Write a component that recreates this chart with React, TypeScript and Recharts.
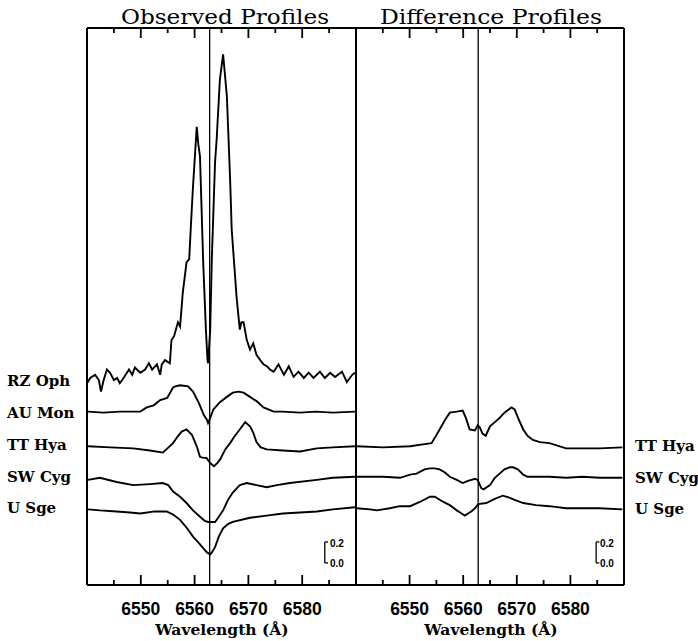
import React from 'react';
import { LineChart, Line, XAxis, YAxis, ReferenceLine } from 'recharts';

// ---------- axis / tick data ----------
const X_DOMAIN: [number, number] = [6540, 6590];
const Y_DOMAIN: [number, number] = [0, 5.3];
const H_ALPHA = 6562.8;
const xTicks = [6545, 6550, 6555, 6560, 6565, 6570, 6575, 6580, 6585];
const majorTicks = [6550, 6560, 6570, 6580];
const panelTitles = ['Observed Profiles', 'Difference Profiles'];
const axisTitle = 'Wavelength (Å)';
const observedNames = ['RZ Oph', 'AU Mon', 'TT Hya', 'SW Cyg', 'U Sge'];
const differenceNames = ['TT Hya', 'SW Cyg', 'U Sge'];
const scaleBarLabels = ['0.2', '0.0'];
const scaleBarValues = [0.21, 0.41];

// ---------- observed profiles (offset relative flux) ----------
const rzOphWave = [6540.0, 6540.6, 6541.5, 6542.2, 6542.6, 6543.1, 6543.7, 6544.3, 6545.0, 6545.6, 6546.1, 6546.8, 6547.8, 6548.4, 6548.9, 6549.9, 6550.8, 6551.5, 6552.1, 6553.0, 6553.6, 6553.9, 6554.5, 6555.4, 6555.7, 6556.2, 6556.9, 6557.3, 6557.8, 6558.5, 6559.0, 6559.3, 6559.7, 6560.4, 6560.7, 6561.0, 6561.6, 6562.1, 6562.4, 6562.5, 6562.9, 6563.2, 6563.8, 6564.1, 6564.7, 6565.3, 6566.0, 6566.6, 6566.9, 6567.8, 6568.4, 6568.7, 6569.1, 6569.7, 6570.3, 6570.9, 6571.5, 6572.2, 6572.8, 6573.5, 6574.0, 6574.7, 6575.6, 6576.6, 6577.5, 6578.4, 6579.3, 6580.3, 6581.2, 6582.1, 6583.3, 6584.2, 6585.2, 6586.1, 6587.4, 6588.3, 6589.3, 6589.8];
const rzOphFlux = [1.92, 1.97, 2.00, 1.95, 1.84, 1.95, 2.05, 2.02, 1.95, 1.97, 1.92, 1.97, 2.05, 2.00, 2.07, 2.02, 2.05, 2.11, 2.05, 2.10, 2.00, 2.10, 2.14, 2.11, 2.33, 2.37, 2.50, 2.46, 2.78, 3.07, 3.10, 3.41, 3.79, 4.36, 4.19, 4.08, 3.07, 2.43, 2.14, 2.11, 2.43, 3.10, 4.02, 4.24, 4.81, 5.05, 4.65, 3.86, 3.38, 2.74, 2.43, 2.50, 2.50, 2.33, 2.24, 2.30, 2.19, 2.14, 2.10, 2.08, 2.05, 2.03, 2.10, 2.00, 2.08, 1.98, 2.03, 1.97, 2.02, 1.97, 2.03, 1.97, 2.02, 1.98, 2.03, 1.93, 2.00, 2.02];

const auMonWave = [6540.2, 6543.0, 6546.1, 6549.9, 6551.1, 6552.4, 6553.6, 6554.9, 6556.0, 6556.4, 6557.3, 6558.8, 6559.7, 6560.8, 6561.7, 6562.3, 6562.5, 6562.9, 6563.5, 6564.7, 6566.0, 6567.1, 6568.2, 6569.1, 6570.3, 6571.5, 6572.8, 6574.7, 6576.4, 6579.6, 6582.5, 6585.7, 6589.8];
const auMonFlux = [1.65, 1.64, 1.65, 1.65, 1.69, 1.71, 1.76, 1.78, 1.88, 1.89, 1.90, 1.89, 1.84, 1.73, 1.62, 1.57, 1.54, 1.59, 1.67, 1.74, 1.79, 1.83, 1.84, 1.83, 1.79, 1.75, 1.69, 1.65, 1.65, 1.64, 1.65, 1.64, 1.65];

const ttHyaWave = [6540.2, 6544.3, 6548.6, 6551.7, 6554.1, 6556.0, 6556.8, 6557.6, 6558.5, 6559.5, 6559.9, 6560.4, 6561.0, 6561.6, 6562.2, 6562.9, 6563.6, 6564.2, 6564.7, 6565.7, 6566.6, 6567.5, 6568.4, 6569.4, 6570.3, 6570.9, 6571.5, 6572.3, 6573.4, 6576.4, 6579.6, 6582.7, 6585.7, 6589.8];
const ttHyaFlux = [1.32, 1.31, 1.30, 1.28, 1.26, 1.35, 1.41, 1.46, 1.48, 1.43, 1.38, 1.32, 1.22, 1.21, 1.21, 1.16, 1.13, 1.16, 1.19, 1.29, 1.35, 1.42, 1.48, 1.55, 1.51, 1.45, 1.36, 1.31, 1.29, 1.28, 1.27, 1.30, 1.31, 1.32];

const swCygWave = [6540.2, 6542.4, 6545.5, 6548.6, 6551.7, 6554.1, 6555.1, 6556.0, 6557.3, 6558.5, 6559.7, 6561.0, 6561.9, 6562.5, 6563.2, 6563.8, 6564.5, 6565.3, 6566.2, 6567.1, 6568.4, 6569.7, 6571.5, 6573.4, 6575.3, 6577.7, 6582.7, 6585.7, 6589.8];
const swCygFlux = [1.00, 1.02, 0.98, 0.95, 0.96, 0.97, 0.95, 0.89, 0.84, 0.78, 0.71, 0.65, 0.61, 0.60, 0.60, 0.60, 0.65, 0.71, 0.81, 0.88, 0.95, 0.97, 0.95, 0.93, 0.95, 0.97, 1.00, 1.02, 1.03];

const uSgeWave = [6540.2, 6542.4, 6545.5, 6548.0, 6549.9, 6552.6, 6554.8, 6556.0, 6557.3, 6558.6, 6559.7, 6560.6, 6561.6, 6562.3, 6562.9, 6563.2, 6563.8, 6564.5, 6565.3, 6566.2, 6567.1, 6570.3, 6573.4, 6576.4, 6579.6, 6582.7, 6585.7, 6589.8];
const uSgeFlux = [0.72, 0.71, 0.70, 0.69, 0.68, 0.70, 0.70, 0.67, 0.62, 0.54, 0.46, 0.41, 0.35, 0.31, 0.29, 0.31, 0.36, 0.46, 0.54, 0.58, 0.60, 0.64, 0.66, 0.68, 0.69, 0.70, 0.72, 0.74];

// ---------- difference profiles ----------
const ttHyaDiffWave = [6540.1, 6545.0, 6550.1, 6552.8, 6554.1, 6554.7, 6555.6, 6556.6, 6557.5, 6558.8, 6559.9, 6560.5, 6561.2, 6562.2, 6562.7, 6563.1, 6563.6, 6564.2, 6565.0, 6565.9, 6566.8, 6567.7, 6569.0, 6569.6, 6570.4, 6571.2, 6572.0, 6573.0, 6574.3, 6576.1, 6579.2, 6582.3, 6585.4, 6589.7];
const ttHyaDiffFlux = [1.32, 1.31, 1.32, 1.34, 1.35, 1.40, 1.48, 1.57, 1.64, 1.65, 1.66, 1.59, 1.48, 1.47, 1.52, 1.50, 1.44, 1.42, 1.51, 1.55, 1.59, 1.64, 1.69, 1.67, 1.57, 1.48, 1.42, 1.38, 1.36, 1.35, 1.30, 1.30, 1.30, 1.31];

const swCygDiffWave = [6540.1, 6542.6, 6545.0, 6548.2, 6550.1, 6551.3, 6552.8, 6553.8, 6554.7, 6555.6, 6556.6, 6557.5, 6558.8, 6559.9, 6560.9, 6562.2, 6562.7, 6563.4, 6563.8, 6565.0, 6565.9, 6566.8, 6567.7, 6568.7, 6569.3, 6570.2, 6571.2, 6572.0, 6573.6, 6576.1, 6579.2, 6582.3, 6585.4, 6589.7];
const swCygDiffFlux = [1.03, 1.03, 1.03, 1.02, 1.05, 1.06, 1.10, 1.11, 1.11, 1.10, 1.07, 1.03, 1.00, 0.97, 0.99, 1.01, 1.00, 0.92, 0.91, 0.95, 1.02, 1.06, 1.10, 1.12, 1.12, 1.10, 1.05, 1.03, 1.03, 1.03, 1.02, 1.03, 1.02, 1.02];

const uSgeDiffWave = [6540.1, 6542.6, 6543.9, 6546.3, 6548.2, 6550.1, 6551.9, 6553.8, 6554.7, 6556.3, 6557.5, 6558.8, 6559.7, 6560.3, 6560.9, 6561.5, 6562.2, 6562.8, 6564.3, 6565.9, 6567.4, 6568.7, 6569.6, 6571.2, 6573.6, 6576.1, 6579.2, 6582.3, 6585.4, 6589.7];
const uSgeDiffFlux = [0.73, 0.72, 0.71, 0.73, 0.75, 0.75, 0.79, 0.84, 0.84, 0.79, 0.76, 0.71, 0.68, 0.66, 0.68, 0.70, 0.73, 0.77, 0.78, 0.82, 0.85, 0.83, 0.81, 0.78, 0.76, 0.75, 0.73, 0.73, 0.73, 0.72];

type Pt = { w: number; v: number | null };
const toPoints = (wave: number[], flux: number[]): Pt[] => {
  const n = Math.min(wave.length, flux.length);
  const out: Pt[] = [];
  for (let i = 0; i < n; i++) out.push({ w: wave[i], v: flux[i] });
  return out;
};

const observedSeries = [
  toPoints(rzOphWave, rzOphFlux),
  toPoints(auMonWave, auMonFlux),
  toPoints(ttHyaWave, ttHyaFlux),
  toPoints(swCygWave, swCygFlux),
  toPoints(uSgeWave, uSgeFlux),
];
const differenceSeries = [
  toPoints(ttHyaDiffWave, ttHyaDiffFlux),
  toPoints(swCygDiffWave, swCygDiffFlux),
  toPoints(uSgeDiffWave, uSgeDiffFlux),
];

// inward tick marks (style): lengths in px, plot height in px
const PLOT_H = 557;
const MAJOR_PX = 10;
const MINOR_PX = 5;
const tickDash = (len: number) => `${len} ${PLOT_H - 2 * len} ${len} 0`;

const SANS = '"Liberation Sans", Arial, sans-serif';
const SERIF = '"DejaVu Serif", "Liberation Serif", serif';

const BottomTickLabel = (props: any) => {
  const { x, y, payload } = props;
  if (!majorTicks.includes(payload.value)) return <g />;
  return (
    <text x={x} y={y + 30} textAnchor="middle" fontFamily={SANS} fontWeight="bold" fontSize={17.5} fill="#000">
      {payload.value}
    </text>
  );
};

function renderPanel(series: Pt[][], barX: number) {
  return [
    <XAxis
      key="xb"
      xAxisId="b"
      dataKey="w"
      type="number"
      domain={X_DOMAIN}
      allowDataOverflow
      ticks={xTicks}
      interval={0}
      height={1}
      tickSize={0}
      tickMargin={0}
      tickLine={false}
      axisLine={{ stroke: '#000', strokeWidth: 2 }}
      tick={(p: any) => <BottomTickLabel {...p} />}
    />,
    <XAxis
      key="xt"
      xAxisId="t"
      orientation="top"
      dataKey="w"
      type="number"
      domain={X_DOMAIN}
      allowDataOverflow
      ticks={xTicks}
      interval={0}
      height={1}
      tickSize={0}
      tick={false}
      tickLine={false}
      axisLine={{ stroke: '#000', strokeWidth: 2 }}
    />,
    <YAxis
      key="yl"
      yAxisId="l"
      type="number"
      domain={Y_DOMAIN}
      allowDataOverflow
      width={1}
      tick={false}
      tickLine={false}
      axisLine={{ stroke: '#000', strokeWidth: 2 }}
    />,
    <YAxis
      key="yr"
      yAxisId="r"
      orientation="right"
      type="number"
      domain={Y_DOMAIN}
      allowDataOverflow
      width={1}
      tick={false}
      tickLine={false}
      axisLine={{ stroke: '#000', strokeWidth: 2 }}
    />,
    ...xTicks.map((t) => (
      <ReferenceLine
        key={'tick' + t}
        xAxisId="b"
        yAxisId="l"
        x={t}
        stroke="#000"
        strokeWidth={1.8}
        strokeDasharray={tickDash(majorTicks.includes(t) ? MAJOR_PX : MINOR_PX)}
      />
    )),
    <ReferenceLine key="ha" xAxisId="b" yAxisId="l" x={H_ALPHA} stroke="#000" strokeWidth={1.3} />,
    <ReferenceLine
      key="sb-v"
      xAxisId="b"
      yAxisId="l"
      segment={[{ x: barX, y: scaleBarValues[0] }, { x: barX, y: scaleBarValues[1] }]}
      stroke="#000"
      strokeWidth={1.3}
    />,
    ...scaleBarValues.map((v, i) => (
      <ReferenceLine
        key={'sb-h' + i}
        xAxisId="b"
        yAxisId="l"
        segment={[{ x: barX, y: v }, { x: barX + 0.6, y: v }]}
        stroke="#000"
        strokeWidth={1.3}
      />
    )),
    ...series.map((d, i) => (
      <Line
        key={'s' + i}
        data={d}
        xAxisId="b"
        yAxisId="l"
        dataKey="v"
        type="linear"
        dot={false}
        activeDot={false}
        stroke="#000"
        strokeWidth={1.9}
        isAnimationActive={false}
      />
    )),
  ];
}

const leftLabelY = [386, 418, 450, 482, 513];
const rightLabelY = [451, 483, 514];

export default function App() {
  return (
    <div style={{ position: 'absolute', left: 0, top: 0, width: 698, height: 641, background: '#fff' }}>
      <div style={{ position: 'absolute', left: 0, top: 0 }}>
        <LineChart width={357} height={641} margin={{ top: 27, left: 86, right: 0, bottom: 55 }}>
          {renderPanel(observedSeries, 6584.2)}
        </LineChart>
      </div>
      <div style={{ position: 'absolute', left: 355, top: 0 }}>
        <LineChart width={344} height={641} margin={{ top: 27, left: 0, right: 74, bottom: 55 }}>
          {renderPanel(differenceSeries, 6584.8)}
        </LineChart>
      </div>
      <svg
        width={698}
        height={641}
        style={{ position: 'absolute', left: 0, top: 0, pointerEvents: 'none' }}
      >
        <text x={225} y={24} textAnchor="middle" fontFamily={SERIF} fontSize={20} textLength={208} lengthAdjust="spacingAndGlyphs">
          {panelTitles[0]}
        </text>
        <text x={491} y={24} textAnchor="middle" fontFamily={SERIF} fontSize={20} textLength={222} lengthAdjust="spacingAndGlyphs">
          {panelTitles[1]}
        </text>
        {observedNames.map((n, i) => (
          <text key={'ol' + i} x={7} y={leftLabelY[i]} fontFamily={SERIF} fontWeight="bold" fontSize={15}>
            {n}
          </text>
        ))}
        {differenceNames.map((n, i) => (
          <text key={'dl' + i} x={635} y={rightLabelY[i]} fontFamily={SERIF} fontWeight="bold" fontSize={15}>
            {n}
          </text>
        ))}
        <text x={222} y={635} textAnchor="middle" fontFamily={SERIF} fontWeight="bold" fontSize={15.5}>
          {axisTitle}
        </text>
        <text x={491} y={635} textAnchor="middle" fontFamily={SERIF} fontWeight="bold" fontSize={15.5}>
          {axisTitle}
        </text>
        {[330, 600].map((x, j) =>
          scaleBarLabels.map((t, i) => (
            <text key={'sb' + j + i} x={x} y={i === 0 ? 547 : 567} fontFamily={SANS} fontWeight="bold" fontSize={10}>
              {t}
            </text>
          ))
        )}
      </svg>
    </div>
  );
}
